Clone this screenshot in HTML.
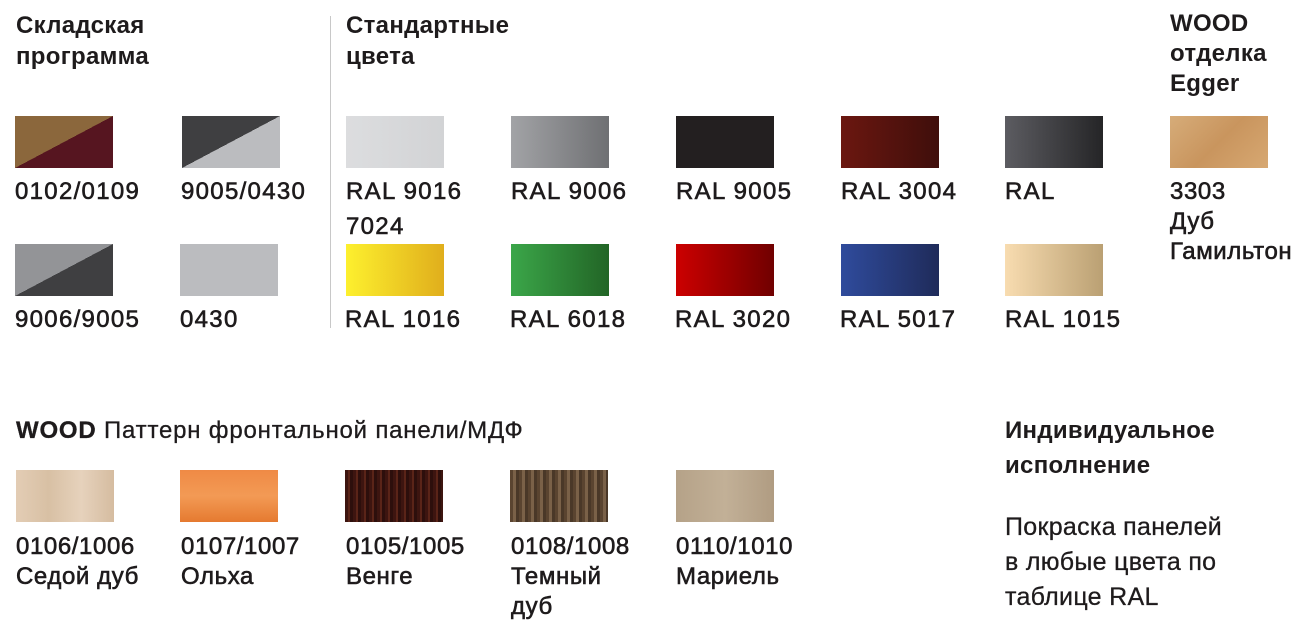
<!DOCTYPE html>
<html><head><meta charset="utf-8"><style>
body{margin:0;width:1313px;height:636px;background:#fff;position:relative;overflow:hidden;font-family:"Liberation Sans",sans-serif;color:#1e1b1c}
.a{position:absolute;white-space:nowrap}
.h{font-weight:bold;font-size:24px;line-height:31px;letter-spacing:0.3px}
.l{font-size:24px;line-height:30px;letter-spacing:1.3px;-webkit-text-stroke:0.6px #1e1b1c}
.s{position:absolute;width:98px;height:52px}
</style></head><body>
<div class="a h" style="left:16px;top:10px">Складская<br>программа</div>
<div class="a h" style="left:346px;top:10px">Стандартные<br>цвета</div>
<div class="a h" style="left:1170px;top:9px;line-height:30px">WOOD<br>отделка<br>Egger</div>
<div class="a" style="left:330px;top:16px;width:1px;height:312px;background:#c8c8c8"></div>

<div class="s" style="left:15px;top:116px;background:linear-gradient(to top left,#561520 50%,#8b673c 50%)"></div>
<div class="s" style="left:182px;top:116px;background:linear-gradient(to top left,#bbbcbf 50%,#3f3f41 50%)"></div>
<div class="s" style="left:15px;top:244px;background:linear-gradient(to top left,#3f3f41 50%,#939497 50%)"></div>
<div class="s" style="left:180px;top:244px;background:#bbbcbf"></div>

<div class="s" style="left:346px;top:116px;background:linear-gradient(90deg,#dcdddf,#d2d3d5)"></div>
<div class="s" style="left:511px;top:116px;background:linear-gradient(90deg,#a2a3a6,#6f7073)"></div>
<div class="s" style="left:676px;top:116px;background:#231f20"></div>
<div class="s" style="left:841px;top:116px;background:linear-gradient(90deg,#6b1710,#3f0e0b)"></div>
<div class="s" style="left:1005px;top:116px;background:linear-gradient(90deg,#5c5c61,#252527)"></div>
<div class="s" style="left:1170px;top:116px;background:linear-gradient(135deg,#d6ac79,#c9955e 50%,#d7a872)"></div>

<div class="s" style="left:346px;top:244px;background:linear-gradient(90deg,#fdf02e,#e0ae1c)"></div>
<div class="s" style="left:511px;top:244px;background:linear-gradient(90deg,#3ba649,#226526)"></div>
<div class="s" style="left:676px;top:244px;background:linear-gradient(90deg,#cc0000,#700000)"></div>
<div class="s" style="left:841px;top:244px;background:linear-gradient(90deg,#2f4b9c,#1f2b5a)"></div>
<div class="s" style="left:1005px;top:244px;background:linear-gradient(90deg,#f8dcb0,#baa073)"></div>

<div class="a l" style="left:15px;top:177px">0102/0109</div>
<div class="a l" style="left:181px;top:177px">9005/0430</div>
<div class="a l" style="left:15px;top:305px">9006/9005</div>
<div class="a l" style="left:180px;top:305px">0430</div>
<div class="a l" style="left:346px;line-height:35px;top:174px">RAL 9016<br>7024</div>
<div class="a l" style="left:511px;top:177px">RAL 9006</div>
<div class="a l" style="left:676px;top:177px">RAL 9005</div>
<div class="a l" style="left:841px;top:177px">RAL 3004</div>
<div class="a l" style="left:1005px;top:177px">RAL</div>
<div class="a l" style="left:1170px;top:177px;letter-spacing:0.6px">3303<br>Дуб<br>Гамильтон</div>
<div class="a l" style="left:345px;top:305px">RAL 1016</div>
<div class="a l" style="left:510px;top:305px">RAL 6018</div>
<div class="a l" style="left:675px;top:305px">RAL 3020</div>
<div class="a l" style="left:840px;top:305px">RAL 5017</div>
<div class="a l" style="left:1005px;top:305px">RAL 1015</div>

<div class="a" style="left:16px;top:416px;font-size:24px;line-height:30px;letter-spacing:0.8px;-webkit-text-stroke:0.3px #1e1b1c"><b>WOOD</b> Паттерн фронтальной панели/МДФ</div>
<div class="s" style="left:16px;top:470px;background:linear-gradient(90deg,#e3cdb5,#d8c0a4,#e6d2bc,#d5bca0)"></div>
<div class="s" style="left:180px;top:470px;background:linear-gradient(180deg,#ef8a45,#f39a55 50%,#e57a30)"></div>
<div class="s" style="left:345px;top:470px;background:repeating-linear-gradient(90deg,#3d1510 0 3px,#5a2418 3px 5px,#2d0f0c 5px 8px)"></div>
<div class="s" style="left:510px;top:470px;background:repeating-linear-gradient(90deg,#5a4430 0 3px,#7a6148 3px 6px,#4a3828 6px 9px)"></div>
<div class="s" style="left:676px;top:470px;background:linear-gradient(90deg,#b5a288,#c2b097,#b09c82)"></div>
<div class="a l" style="left:16px;top:532px;letter-spacing:0.6px">0106/1006<br>Седой дуб</div>
<div class="a l" style="left:181px;top:532px;letter-spacing:0.6px">0107/1007<br>Ольха</div>
<div class="a l" style="left:346px;top:532px;letter-spacing:0.6px">0105/1005<br>Венге</div>
<div class="a l" style="left:511px;top:532px;letter-spacing:0.6px">0108/1008<br>Темный<br>дуб</div>
<div class="a l" style="left:676px;top:532px;letter-spacing:0.6px">0110/1010<br>Мариель</div>

<div class="a h" style="left:1005px;top:413px;line-height:35px">Индивидуальное<br>исполнение</div>
<div class="a" style="left:1005px;top:510px;font-size:25px;line-height:35px;letter-spacing:0.3px;-webkit-text-stroke:0.3px #1e1b1c">Покраска панелей<br>в любые цвета по<br>таблице RAL</div>
</body></html>
